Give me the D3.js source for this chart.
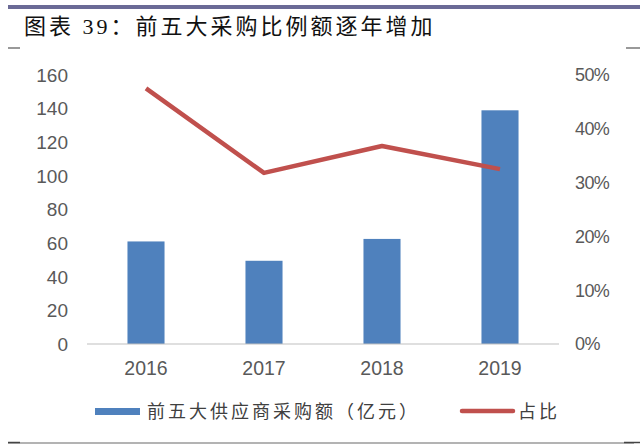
<!DOCTYPE html>
<html>
<head>
<meta charset="utf-8">
<script src="https://cdn.jsdelivr.net/npm/d3@7"></script>
<style>
  body { margin: 0; background: #fff; }
  svg { display: block; }
</style>
</head>
<body>
<svg width="640" height="447"></svg>
<script>
var years = ["2016", "2017", "2018", "2019"];
var amounts = [61, 49.5, 62.5, 139];          // 前五大供应商采购额（亿元）
var shares = [0.475, 0.318, 0.368, 0.325];     // 占比
var leftTicks = [0, 20, 40, 60, 80, 100, 120, 140, 160];
var rightTicks = [0, 0.1, 0.2, 0.3, 0.4, 0.5];

var svg = d3.select("svg"),
    width = +svg.attr("width"),
    height = +svg.attr("height");

var numFont = "'Liberation Sans', Arial, sans-serif";
var cjkFont = "'Liberation Serif', 'Noto Sans CJK SC', serif";

// header bar and title
svg.append("rect")
    .attr("x", 8).attr("y", 5)
    .attr("width", width - 8).attr("height", 4)
    .attr("fill", "#6b6a96");

svg.append("text")
    .attr("x", 24).attr("y", 34)
    .attr("font-family", cjkFont)
    .attr("font-size", 22)
    .attr("letter-spacing", 3)
    .attr("font-weight", 400)
    .attr("fill", "#111")
    .text("图表 39：前五大采购比例额逐年增加");

// little corner dashes
svg.append("line").attr("x1", 8).attr("x2", 20).attr("y1", 48).attr("y2", 48)
    .attr("stroke", "#555").attr("stroke-width", 1.2);
svg.append("line").attr("x1", 626).attr("x2", 640).attr("y1", 48).attr("y2", 48)
    .attr("stroke", "#555").attr("stroke-width", 1.2);

// bottom rule
svg.append("line").attr("x1", 8).attr("x2", 634).attr("y1", 443).attr("y2", 443)
    .attr("stroke", "#9a9a9a").attr("stroke-width", 1.5);
svg.append("line").attr("x1", 8).attr("x2", 20).attr("y1", 442.5).attr("y2", 442.5)
    .attr("stroke", "#444").attr("stroke-width", 1.5);
svg.append("line").attr("x1", 624).attr("x2", 640).attr("y1", 442.5).attr("y2", 442.5)
    .attr("stroke", "#444").attr("stroke-width", 1.5);

// scales
var x = d3.scaleBand()
    .domain(years)
    .range([87, 559])
    .paddingInner(0.686)
    .paddingOuter(0.343);

var yLeft = d3.scaleLinear().domain([0, 160]).range([344, 75]);
var yRight = d3.scaleLinear().domain([0, 0.5]).range([344, 75]);

// bars
svg.append("g")
    .selectAll("rect")
    .data(amounts)
    .enter().append("rect")
    .attr("x", function (d, i) { return x(years[i]); })
    .attr("y", function (d) { return yLeft(d); })
    .attr("width", x.bandwidth())
    .attr("height", function (d) { return yLeft(0) - yLeft(d); })
    .attr("fill", "#4f81bd");

// category axis line
svg.append("line")
    .attr("x1", 87).attr("x2", 559)
    .attr("y1", yLeft(0)).attr("y2", yLeft(0))
    .attr("stroke", "#bfbfbf").attr("stroke-width", 1.2);

// share line
var line = d3.line()
    .x(function (d, i) { return x(years[i]) + x.bandwidth() / 2; })
    .y(function (d) { return yRight(d); });

svg.append("path")
    .datum(shares)
    .attr("d", line)
    .attr("fill", "none")
    .attr("stroke", "#c0504d")
    .attr("stroke-width", 4.5)
    .attr("stroke-linejoin", "round");

// left axis labels
svg.append("g")
    .selectAll("text")
    .data(leftTicks)
    .enter().append("text")
    .attr("x", 68)
    .attr("y", function (d) { return yLeft(d); })
    .attr("dy", "0.36em")
    .attr("text-anchor", "end")
    .attr("font-family", numFont)
    .attr("font-size", 19)
    .attr("fill", "#595959")
    .text(function (d) { return d; });

// right axis labels
svg.append("g")
    .selectAll("text")
    .data(rightTicks)
    .enter().append("text")
    .attr("x", 575)
    .attr("y", function (d) { return yRight(d); })
    .attr("dy", "0.36em")
    .attr("font-family", numFont)
    .attr("font-size", 18)
    .attr("letter-spacing", -0.6)
    .attr("fill", "#595959")
    .text(function (d) { return Math.round(d * 100) + "%"; });

// x labels
svg.append("g")
    .selectAll("text")
    .data(years)
    .enter().append("text")
    .attr("x", function (d) { return x(d) + x.bandwidth() / 2; })
    .attr("y", 375)
    .attr("text-anchor", "middle")
    .attr("font-family", numFont)
    .attr("font-size", 19.5)
    .attr("fill", "#595959")
    .text(function (d) { return d; });

// legend
var legend = svg.append("g");
legend.append("rect")
    .attr("x", 95).attr("y", 408)
    .attr("width", 45).attr("height", 7)
    .attr("fill", "#4f81bd");
legend.append("text")
    .attr("x", 147).attr("y", 412)
    .attr("dy", "0.36em")
    .attr("font-family", cjkFont)
    .attr("font-size", 18)
    .attr("letter-spacing", 3)
    .attr("fill", "#404040")
    .text("前五大供应商采购额（亿元）");
legend.append("line")
    .attr("x1", 462).attr("x2", 513)
    .attr("y1", 411).attr("y2", 411)
    .attr("stroke", "#c0504d")
    .attr("stroke-width", 4.5)
    .attr("stroke-linecap", "round");
legend.append("text")
    .attr("x", 518).attr("y", 412)
    .attr("dy", "0.36em")
    .attr("font-family", cjkFont)
    .attr("font-size", 18)
    .attr("letter-spacing", 3)
    .attr("fill", "#404040")
    .text("占比");
</script>
</body>
</html>
